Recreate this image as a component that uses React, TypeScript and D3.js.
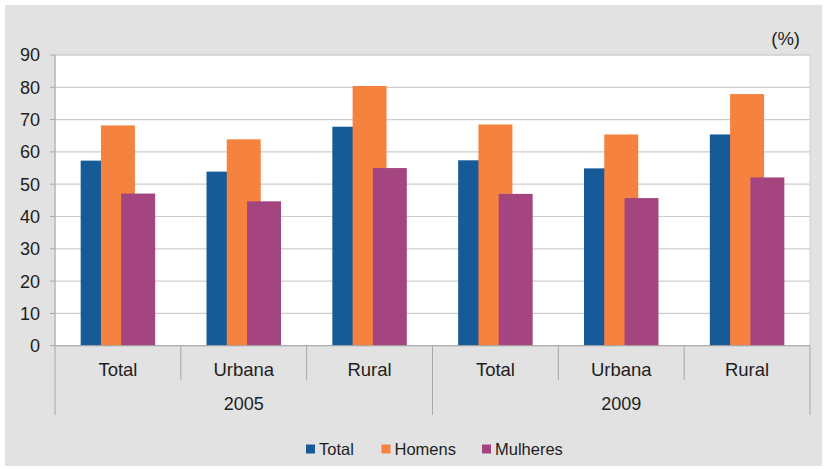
import React from "react";
import * as d3 from "d3";

const years = ["2005", "2009"];
const areas = ["Total", "Urbana", "Rural"];
const seriesNames = ["Total", "Homens", "Mulheres"];
const totalValues = [57.3, 53.9, 67.8, 57.4, 54.9, 65.4];
const homensValues = [68.2, 63.9, 80.4, 68.5, 65.4, 77.9];
const mulheresValues = [47.1, 44.7, 55.0, 47.0, 45.7, 52.1];
const yTicks = [0, 10, 20, 30, 40, 50, 60, 70, 80, 90];
const colors = ["#175a98", "#f5833f", "#a4457f"];

const W = 833;
const H = 469;
const plot = { left: 55, right: 810, top: 55, bottom: 345.7 };

export default function App() {
  const seriesValues = [totalValues, homensValues, mulheresValues];
  const cats = years.flatMap((y) => areas.map((a) => `${y}-${a}`));
  const x = d3.scaleBand<string>().domain(cats).range([plot.left, plot.right]).padding(0);
  const y = d3.scaleLinear().domain([0, 90]).range([plot.bottom, plot.top]);
  const bw = x.bandwidth();
  const barW = bw * 0.27;
  const step = bw * 0.161;
  const font = "'Liberation Sans', Arial, sans-serif";
  const textColor = "#1e1e1e";
  const yearScale = d3.scaleBand<string>().domain(years).range([plot.left, plot.right]);

  const legendItems = [
    { name: seriesNames[0], x: 306 },
    { name: seriesNames[1], x: 381.5 },
    { name: seriesNames[2], x: 482 },
  ];

  return (
    <svg width={W} height={H} style={{ position: "absolute", left: 0, top: 0 }} fontFamily={font}>
      <rect x={0} y={0} width={W} height={H} fill="#ffffff" />
      <rect x={5} y={5} width={817} height={461} fill="#e2e2e2" />
      <rect x={plot.left} y={plot.top} width={plot.right - plot.left} height={plot.bottom - plot.top} fill="#ffffff" stroke="#cfcfcf" strokeWidth={1} />
      {yTicks.map((t) => (
        <g key={t}>
          <line x1={plot.left} x2={plot.right} y1={y(t)} y2={y(t)} stroke="#cdcdcd" strokeWidth={1.2} />
          <line x1={plot.left - 5} x2={plot.left} y1={y(t)} y2={y(t)} stroke="#a8a8a8" strokeWidth={1} />
          <text x={40} y={y(t)} dy="0.36em" textAnchor="end" fontSize={18} fill={textColor}>{t}</text>
        </g>
      ))}
      {seriesValues.map((vals, si) => (
        <g key={si}>
          {vals.map((v, i) => {
            const cx = (x(cats[i]) as number) + bw / 2;
            const bx = cx - barW / 2 + (si - 1) * step;
            return <rect key={i} x={bx} y={y(v)} width={barW} height={y(0) - y(v)} fill={colors[si]} />;
          })}
        </g>
      ))}
      <line x1={plot.left} x2={plot.left} y1={plot.top} y2={415} stroke="#a8a8a8" strokeWidth={1} />
      <line x1={plot.left} x2={plot.right} y1={plot.bottom} y2={plot.bottom} stroke="#a8a8a8" strokeWidth={1} />
      {cats.map((c, i) => {
        const bx = x(c) as number;
        const isYearEdge = i % areas.length === 0;
        return (
          <g key={c}>
            {i > 0 && (
              <line x1={bx} x2={bx} y1={plot.bottom} y2={isYearEdge ? 415 : 380} stroke="#a8a8a8" strokeWidth={1} />
            )}
            <text x={bx + bw / 2} y={375.5} textAnchor="middle" fontSize={18.5} fill={textColor}>{areas[i % areas.length]}</text>
          </g>
        );
      })}
      <line x1={plot.right} x2={plot.right} y1={plot.bottom} y2={415} stroke="#a8a8a8" strokeWidth={1} />
      {years.map((yr) => (
        <text key={yr} x={(yearScale(yr) as number) + yearScale.bandwidth() / 2} y={410} textAnchor="middle" fontSize={18} fill={textColor}>{yr}</text>
      ))}
      <text x={800} y={45} textAnchor="end" fontSize={18.5} fill={textColor}>(%)</text>
      {legendItems.map((it, i) => (
        <g key={it.name}>
          <rect x={it.x} y={444.5} width={9} height={9} fill={colors[i]} />
          <text x={it.x + 13} y={455} fontSize={16.5} fill={textColor}>{it.name}</text>
        </g>
      ))}
    </svg>
  );
}
